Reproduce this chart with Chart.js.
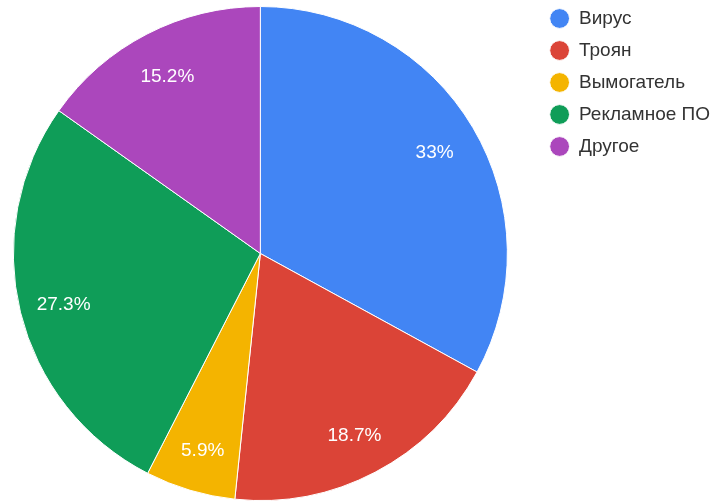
<!DOCTYPE html>
<html lang="ru">
<head>
<meta charset="utf-8">
<title>Типы угроз</title>
<script src="https://cdn.jsdelivr.net/npm/chart.js@4.4.1/dist/chart.umd.min.js"></script>
<style>
  html, body { margin: 0; padding: 0; background: #fff; }
  #contenedor { width: 722px; height: 501px; position: relative; }
</style>
</head>
<body>
<div id="contenedor"><canvas id="graficoAmenazas"></canvas></div>
<script>
// Categorías y porcentajes de cada tipo de amenaza
const categorias = ['Вирус', 'Троян', 'Вымогатель', 'Рекламное ПО', 'Другое'];
const porcentajes = [33, 18.7, 5.9, 27.3, 15.2];
const colores = ['#4285f4', '#db4437', '#f4b400', '#0f9d58', '#ab47bc'];

const fuente = '"Liberation Sans", Arial, sans-serif';

// Escribe el porcentaje dentro de cada sector
const etiquetasPorcentaje = {
    id: 'etiquetasPorcentaje',
    afterDatasetsDraw(chart) {
        const ctx = chart.ctx;
        const meta = chart.getDatasetMeta(0);
        ctx.save();
        ctx.font = '19px ' + fuente;
        ctx.fillStyle = '#ffffff';
        ctx.textAlign = 'center';
        ctx.textBaseline = 'middle';
        meta.data.forEach((arco, i) => {
            const p = arco.getProps(['x', 'y', 'startAngle', 'endAngle', 'outerRadius']);
            const medio = (p.startAngle + p.endAngle) / 2;
            const r = p.outerRadius * 0.82;
            // +3 para centrar visualmente los dígitos
            ctx.fillText(porcentajes[i] + '%', p.x + Math.cos(medio) * r, p.y + Math.sin(medio) * r + 3);
        });
        ctx.restore();
    }
};

// Ajusta la posición de la leyenda después del layout
const moverLeyenda = {
    id: 'moverLeyenda',
    afterLayout(chart) {
        const l = chart.legend;
        l.left += 16; l.right += 16;
        l.top -= 10; l.bottom -= 10;
    }
};

const ctx = document.getElementById('graficoAmenazas').getContext('2d');

new Chart(ctx, {
    type: 'pie',
    data: {
        labels: categorias,
        datasets: [{
            data: porcentajes,
            backgroundColor: colores,
            borderColor: '#ffffff',
            borderWidth: 1
        }]
    },
    options: {
        responsive: true,
        maintainAspectRatio: false,
        animation: false,
        events: [],
        layout: {
            padding: { top: 6, right: 18, bottom: 0, left: 0 }
        },
        plugins: {
            tooltip: { enabled: false },
            legend: {
                position: 'right',
                align: 'start',
                labels: {
                    usePointStyle: true,
                    pointStyle: 'circle',
                    boxHeight: 14,
                    pointStyleWidth: 19.8,
                    padding: 13,
                    color: '#333333',
                    font: { size: 19, family: fuente }
                }
            }
        }
    },
    plugins: [etiquetasPorcentaje, moverLeyenda]
});
</script>
</body>
</html>
